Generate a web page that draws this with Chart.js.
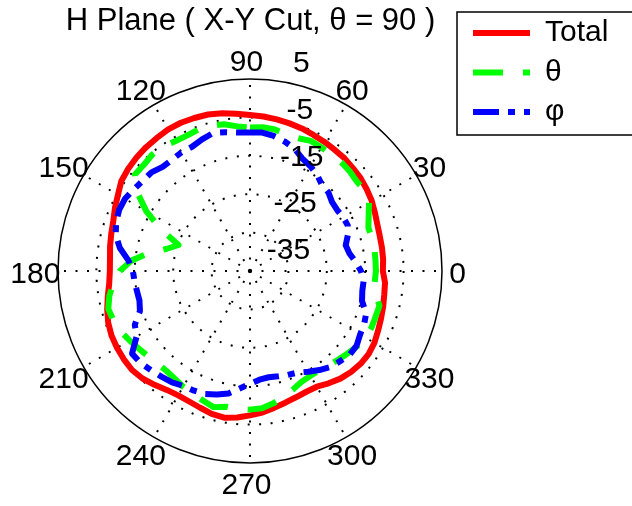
<!DOCTYPE html>
<html lang="en">
<head>
    <meta charset="UTF-8">
    <title>H Plane polar pattern</title>
    <script src="https://cdn.jsdelivr.net/npm/chart.js"></script>
    <style>
        html, body { margin: 0; padding: 0; background: #fff; overflow: hidden; }
        canvas { display: block; }
    </style>
</head>
<body>
    <canvas id="myChart" width="632" height="506"></canvas>

    <script>
        // angles in degrees, counter-clockwise from the +x axis (0 = right)
        const angles = [
            0, 5, 10, 15, 20, 25, 30, 35, 40, 45, 50, 55,
            60, 65, 70, 75, 80, 85, 90, 95, 100, 105, 110, 115,
            120, 125, 130, 135, 140, 145, 150, 155, 160, 165, 170, 175,
            180, 185, 190, 195, 200, 205, 210, 215, 220, 225, 230, 235,
            240, 245, 250, 255, 260, 265, 270, 275, 280, 285, 290, 295,
            300, 305, 310, 315, 320, 325, 330, 335, 340, 345, 350, 355
        ];

        // gain in dB, one value per angle above
        const totalDb = [
            -10.4, -10.2, -10.1, -10.0, -9.7, -9.1, -8.4, -7.9, -7.4, -7.1, -6.7, -6.5,
            -6.2, -5.9, -5.5, -5.2, -4.9, -4.6, -4.4, -3.9, -3.3, -2.8, -2.6, -2.4,
            -2.4, -2.7, -2.9, -3.2, -3.6, -4.1, -5.3, -6.2, -7.1, -7.6, -8.0, -8.4,
            -8.5, -8.2, -7.4, -6.5, -5.7, -5.2, -5.0, -4.9, -4.9, -5.4, -6.3, -7.2,
            -7.6, -7.5, -7.1, -6.5, -6.2, -6.7, -7.4, -8.0, -8.8, -9.5, -10.0, -10.3,
            -10.2, -9.3, -8.4, -7.8, -7.4, -7.3, -7.6, -8.2, -8.7, -9.1, -9.5, -9.7
        ];
        const thetaDb = [
            -12.2, -12.2, -12.1, -12.0, -12.2, -10.9, -9.2, -8.6, -8.7, -8.3, -8.0, -8.0,
            -7.8, -7.6, -8.2, -8.2, -7.6, -7.4, -7.6, -7.2, -6.2, -5.8, -5.8, -6.1,
            -6.0, -5.4, -5.4, -5.9, -5.9, -9.1, -13.8, -19.5, -25.2, -22.6, -18.2, -14.0,
            -11.1, -9.3, -7.8, -6.8, -7.2, -7.8, -8.8, -9.7, -10.4, -10.9, -11.1, -10.8,
            -10.2, -9.8, -9.1, -8.3, -9.1, -8.9, -8.9, -9.1, -10.0, -11.1, -12.2, -13.2,
            -13.5, -13.4, -13.0, -12.4, -11.7, -10.9, -10.2, -10.1, -10.2, -10.1, -11.8, -12.4
        ];
        const phiDb = [
            -16.1, -17.4, -18.7, -19.2, -17.9, -16.9, -17.0, -17.3, -17.1, -16.1, -15.8, -14.5,
            -13.5, -12.7, -11.1, -10.1, -9.3, -8.8, -8.9, -8.8, -8.3, -7.8, -8.5, -9.3,
            -9.3, -9.6, -9.6, -8.7, -8.5, -8.0, -7.4, -7.4, -7.9, -8.8, -10.6, -13.2,
            -14.5, -14.8, -15.1, -15.2, -14.5, -11.9, -10.9, -7.5, -7.8, -8.5, -9.1, -9.6,
            -10.4, -10.6, -10.9, -11.7, -12.6, -14.3, -15.6, -16.6, -16.9, -16.6, -16.2, -15.8,
            -14.7, -13.5, -12.4, -11.8, -11.1, -11.1, -11.9, -12.2, -12.8, -14.8, -15.3, -15.3
        ];

        // spokes and angle labels
        const angleTicks = [0, 30, 60, 90, 120, 150, 180, 210, 240, 270, 300, 330];
        const rMin = -45;
        const rMax = 5;
        const rStep = 10;

        // radar goes clockwise from the top, so start at 90 and walk downwards
        const chartAngles = angles.map((a, k) => angles[(18 - k + 72) % 72]);
        const pick = arr => chartAngles.map(a => arr[angles.indexOf(a)]);

        const labelFont = '30px "Liberation Sans", Arial, sans-serif';

        // MATLAB style text: angle labels round the rim, dB labels along ~82 deg, legend frame
        const polarText = {
            id: 'polarText',
            afterLayout(chart) {
                const lg = chart.legend;
                lg.left = 463.5;
                lg.top = 8.5;
                lg.right = 632;
                lg.bottom = 150;
                lg.width = lg.right - lg.left;
                lg.height = lg.bottom - lg.top;
            },
            afterDraw(chart) {
                const ctx = chart.ctx;
                const r = chart.scales.r;
                ctx.save();
                ctx.fillStyle = '#000';
                ctx.font = labelFont;
                ctx.textBaseline = 'middle';

                ctx.textAlign = 'center';
                chartAngles.forEach((a, i) => {
                    if (!angleTicks.includes(a)) return;
                    const p = r.getPointPosition(i, r.drawingArea * 1.1);
                    ctx.fillText(String(a), p.x - 3.5, p.y + 3.3);
                });

                ctx.textAlign = 'left';
                const c82 = Math.cos(82 * Math.PI / 180);
                const s82 = Math.sin(82 * Math.PI / 180);
                r.ticks.forEach(t => {
                    if (t.value === rMin) return;
                    const lr = 1.23 * r.getDistanceFromCenterForValue(t.value) - 27;
                    ctx.fillText(t.label, r.xCenter + 14 + lr * c82, r.yCenter - lr * s82);
                });

                // legend frame, its right side runs off the picture
                ctx.lineWidth = 1.5;
                ctx.strokeStyle = '#000';
                ctx.beginPath();
                ctx.moveTo(640, 12);
                ctx.lineTo(457, 12);
                ctx.lineTo(457, 135);
                ctx.lineTo(640, 135);
                ctx.stroke();
                ctx.restore();
            }
        };

        Chart.defaults.font.family = '"Liberation Sans", Arial, sans-serif';
        Chart.defaults.color = '#000';

        const ctx = document.getElementById('myChart').getContext('2d');

        const myChart = new Chart(ctx, {
            type: 'radar',
            data: {
                labels: chartAngles.map(String),
                datasets: [
                    {
                        label: 'Total',
                        data: pick(totalDb),
                        borderColor: '#ff0000',
                        borderWidth: 6,
                        order: 3
                    },
                    {
                        label: 'θ',
                        data: pick(thetaDb),
                        borderColor: '#00ff00',
                        borderWidth: 6,
                        borderDash: [30, 20],
                        order: 2
                    },
                    {
                        label: 'φ',
                        data: pick(phiDb),
                        borderColor: '#0000ff',
                        borderWidth: 6,
                        borderDash: [26, 9, 7, 9],
                        order: 1
                    }
                ]
            },
            options: {
                responsive: false,
                animation: false,
                layout: { padding: { left: 58, right: 189, top: 0, bottom: 42 } },
                elements: {
                    line: { fill: false, tension: 0, borderJoinStyle: 'round', backgroundColor: 'transparent' },
                    point: { radius: 0, hoverRadius: 0, hitRadius: 0 }
                },
                scales: {
                    r: {
                        min: rMin,
                        max: rMax,
                        startAngle: 0,
                        ticks: { display: false, stepSize: rStep },
                        pointLabels: { display: false },
                        grid: {
                            circular: true,
                            color: '#000',
                            lineWidth: c => (c.tick && c.tick.value === rMax) ? 1.5 : 2
                        },
                        border: {
                            dash: c => (c.tick && c.tick.value === rMax) ? [] : [2, 9.5]
                        },
                        angleLines: {
                            color: '#000',
                            lineWidth: c => angleTicks.includes(chartAngles[c.index]) ? 2 : 0,
                            borderDash: [2, 9.5]
                        }
                    }
                },
                plugins: {
                    title: {
                        display: true,
                        text: 'H Plane ( X-Y Cut, θ = 90 )',
                        fullSize: false,
                        color: '#000',
                        font: { size: 31, weight: 'normal' },
                        padding: { top: 2.5, bottom: 39.3 }
                    },
                    legend: {
                        position: 'chartArea',
                        align: 'start',
                        labels: {
                            usePointStyle: true,
                            pointStyleWidth: 57,
                            padding: 9.5,
                            color: '#000',
                            font: { size: 30 },
                            generateLabels: chart => chart.data.datasets.map((ds, i) => ({
                                text: ds.label,
                                fillStyle: ds.borderColor,
                                strokeStyle: ds.borderColor,
                                lineWidth: ds.borderWidth,
                                lineDash: ds.borderDash || [],
                                pointStyle: 'line',
                                hidden: false,
                                datasetIndex: i
                            }))
                        }
                    },
                    tooltip: { enabled: false }
                }
            },
            plugins: [polarText]
        });
    </script>
</body>
</html>
